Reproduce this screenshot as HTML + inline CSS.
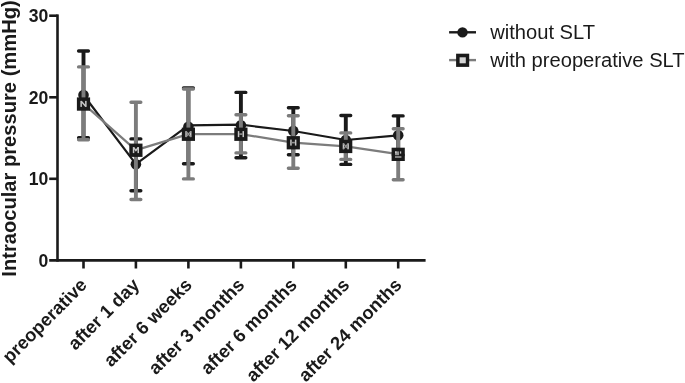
<!DOCTYPE html><html><head><meta charset="utf-8"><title>chart</title><style>html,body{margin:0;padding:0;background:#fff}svg{display:block}text{font-family:"Liberation Sans",Arial,sans-serif;fill:#1a1a1a}</style></head><body>
<svg width="685" height="383" viewBox="0 0 685 383">
<rect width="685" height="383" fill="#fff"/>
<g stroke="#1a1a1a" stroke-width="2.6" fill="none" stroke-linecap="butt">
<path d="M57.5 14.4V261.7"/>
<path d="M49.2 260.4H425.6"/>
<path d="M49.2 178.8H57.5"/>
<path d="M49.2 97.3H57.5"/>
<path d="M49.2 15.7H57.5"/>
<path d="M83.5 260.4V268.5"/>
<path d="M135.9 260.4V268.5"/>
<path d="M188.4 260.4V268.5"/>
<path d="M240.9 260.4V268.5"/>
<path d="M293.3 260.4V268.5"/>
<path d="M345.8 260.4V268.5"/>
<path d="M398.2 260.4V268.5"/>
</g>
<text x="48.3" y="266.7" font-size="17.6" font-weight="bold" text-anchor="end">0</text>
<text x="48.3" y="185.1" font-size="17.6" font-weight="bold" text-anchor="end">10</text>
<text x="48.3" y="103.6" font-size="17.6" font-weight="bold" text-anchor="end">20</text>
<text x="48.3" y="22.0" font-size="17.6" font-weight="bold" text-anchor="end">30</text>
<text transform="translate(16,138.5) rotate(-90)" font-size="20.15" font-weight="bold" text-anchor="middle">Intraocular pressure (mmHg)</text>
<text transform="translate(88.1,286) rotate(-45)" font-size="18.4" font-weight="bold" text-anchor="end">preoperative</text>
<text transform="translate(140.5,286) rotate(-45)" font-size="18.4" font-weight="bold" text-anchor="end">after 1 day</text>
<text transform="translate(193.0,286) rotate(-45)" font-size="18.4" font-weight="bold" text-anchor="end">after 6 weeks</text>
<text transform="translate(245.5,286) rotate(-45)" font-size="18.4" font-weight="bold" text-anchor="end">after 3 months</text>
<text transform="translate(297.9,286) rotate(-45)" font-size="18.4" font-weight="bold" text-anchor="end">after 6 months</text>
<text transform="translate(350.4,286) rotate(-45)" font-size="18.4" font-weight="bold" text-anchor="end">after 12 months</text>
<text transform="translate(402.8,286) rotate(-45)" font-size="18.4" font-weight="bold" text-anchor="end">after 24 months</text>
<g stroke="#1a1a1a" stroke-width="3.4" fill="none" stroke-linecap="round">
<path d="M83.5 51.0V137.7" stroke-linecap="butt" stroke-width="3.9"/>
<path d="M78.6 51.0h9.8M78.6 137.7h9.8"/>
<path d="M135.9 138.9V190.7" stroke-linecap="butt" stroke-width="3.9"/>
<path d="M131.0 138.9h9.8M131.0 190.7h9.8"/>
<path d="M188.4 88.0V163.8" stroke-linecap="butt" stroke-width="3.9"/>
<path d="M183.5 88.0h9.8M183.5 163.8h9.8"/>
<path d="M240.9 92.4V157.8" stroke-linecap="butt" stroke-width="3.9"/>
<path d="M236.0 92.4h9.8M236.0 157.8h9.8"/>
<path d="M293.3 107.8V154.8" stroke-linecap="butt" stroke-width="3.9"/>
<path d="M288.4 107.8h9.8M288.4 154.8h9.8"/>
<path d="M345.8 115.5V164.4" stroke-linecap="butt" stroke-width="3.9"/>
<path d="M340.9 115.5h9.8M340.9 164.4h9.8"/>
<path d="M398.2 115.9V155.0" stroke-linecap="butt" stroke-width="3.9"/>
<path d="M393.3 115.9h9.8M393.3 155.0h9.8"/>
</g>
<polyline points="83.5,95.0 135.9,164.2 188.4,125.4 240.9,124.7 293.3,131.0 345.8,140.0 398.2,135.3" fill="none" stroke="#1a1a1a" stroke-width="2.2" stroke-linejoin="round"/>
<circle cx="83.5" cy="95.0" r="5.3" fill="#1a1a1a"/>
<circle cx="135.9" cy="164.2" r="5.3" fill="#1a1a1a"/>
<circle cx="188.4" cy="126.8" r="5.3" fill="#1a1a1a"/>
<circle cx="240.9" cy="125.3" r="5.3" fill="#1a1a1a"/>
<circle cx="293.3" cy="130.9" r="5.3" fill="#1a1a1a"/>
<circle cx="345.8" cy="140.0" r="5.3" fill="#1a1a1a"/>
<circle cx="398.2" cy="135.3" r="5.3" fill="#1a1a1a"/>
<g stroke="#7c7c7c" stroke-width="3.4" fill="none" stroke-linecap="round">
<path d="M83.5 66.9V139.7" stroke-linecap="butt" stroke-width="3.9"/>
<path d="M78.6 66.9h9.8M78.6 139.7h9.8"/>
<path d="M135.9 102.3V199.5" stroke-linecap="butt" stroke-width="3.9"/>
<path d="M131.0 102.3h9.8M131.0 199.5h9.8"/>
<path d="M188.4 89.0V178.9" stroke-linecap="butt" stroke-width="3.9"/>
<path d="M183.5 89.0h9.8M183.5 178.9h9.8"/>
<path d="M240.9 114.7V152.9" stroke-linecap="butt" stroke-width="3.9"/>
<path d="M236.0 114.7h9.8M236.0 152.9h9.8"/>
<path d="M293.3 115.7V168.3" stroke-linecap="butt" stroke-width="3.9"/>
<path d="M288.4 115.7h9.8M288.4 168.3h9.8"/>
<path d="M345.8 132.9V159.4" stroke-linecap="butt" stroke-width="3.9"/>
<path d="M340.9 132.9h9.8M340.9 159.4h9.8"/>
<path d="M398.2 128.7V179.7" stroke-linecap="butt" stroke-width="3.9"/>
<path d="M393.3 128.7h9.8M393.3 179.7h9.8"/>
</g>
<polyline points="83.5,103.9 135.9,150.1 188.4,134.1 240.9,134.1 293.3,142.6 345.8,146.3 398.2,154.2" fill="none" stroke="#7c7c7c" stroke-width="2.2" stroke-linejoin="round"/>
<rect x="76.9" y="97.4" width="13.2" height="13.3" fill="#1a1a1a"/>
<g transform="translate(83.5,103.9)"><rect x="-3.1" y="-3" width="1.5" height="6" fill="#c8c8c8"/><rect x="1.6" y="-3" width="1.5" height="6" fill="#c8c8c8"/><path d="M-2.3 -2.6L2.3 2.6" stroke="#c8c8c8" stroke-width="1.5" fill="none"/></g>
<rect x="129.3" y="143.6" width="13.2" height="13.3" fill="#1a1a1a"/>
<g transform="translate(135.9,150.1)"><rect x="-3.1" y="-3" width="1.5" height="6" fill="#c8c8c8"/><rect x="1.6" y="-3" width="1.5" height="6" fill="#c8c8c8"/><path d="M-2.3 -2.6L0 0.4L2.3 -2.6" stroke="#c8c8c8" stroke-width="1.4" fill="none"/></g>
<rect x="181.8" y="127.6" width="13.2" height="13.3" fill="#1a1a1a"/>
<g transform="translate(188.4,134.1)"><rect x="-3.1" y="-3" width="1.5" height="6" fill="#c8c8c8"/><rect x="1.6" y="-3" width="1.5" height="6" fill="#c8c8c8"/><path d="M-2.3 -2.6L2.3 2.6M-2.3 2.6L2.3 -2.6" stroke="#949494" stroke-width="1.3" fill="none"/></g>
<rect x="234.3" y="127.6" width="13.2" height="13.3" fill="#1a1a1a"/>
<g transform="translate(240.9,134.1)"><rect x="-3.1" y="-3" width="1.5" height="6" fill="#c8c8c8"/><rect x="1.6" y="-3" width="1.5" height="6" fill="#c8c8c8"/><rect x="-1.6" y="-0.8" width="3.2" height="1.6" fill="#949494"/></g>
<rect x="286.7" y="136.1" width="13.2" height="13.3" fill="#1a1a1a"/>
<g transform="translate(293.3,142.6)"><rect x="-3.1" y="-3" width="1.5" height="6" fill="#c8c8c8"/><rect x="1.6" y="-3" width="1.5" height="6" fill="#c8c8c8"/><rect x="-1.6" y="-0.8" width="3.2" height="1.6" fill="#949494"/></g>
<rect x="339.1" y="139.8" width="13.2" height="13.3" fill="#1a1a1a"/>
<g transform="translate(345.8,146.3)"><rect x="-3.1" y="-3" width="1.5" height="6" fill="#c8c8c8"/><rect x="1.6" y="-3" width="1.5" height="6" fill="#c8c8c8"/><path d="M-2.3 -2.6L2.3 2.6M-2.3 2.6L2.3 -2.6" stroke="#949494" stroke-width="1.3" fill="none"/></g>
<rect x="391.6" y="147.7" width="13.2" height="13.3" fill="#1a1a1a"/>
<g transform="translate(398.2,154.2)"><rect x="-3.2" y="-2.8" width="4" height="3.8" fill="#949494"/><rect x="-3.2" y="-2.8" width="1.6" height="1.8" fill="#c8c8c8"/><rect x="1.7" y="-2.8" width="1.3" height="2.2" fill="#c8c8c8"/><rect x="-3.2" y="2.2" width="6.4" height="1.2" fill="#c8c8c8"/></g>
<path d="M449.1 32.3H476" stroke="#1a1a1a" stroke-width="2.4"/><circle cx="462.5" cy="32.4" r="5.2" fill="#1a1a1a"/>
<path d="M449.1 60.1H476" stroke="#7c7c7c" stroke-width="2.4"/><rect x="456.1" y="53.7" width="13.1" height="13.2" fill="#1a1a1a"/><rect x="459.6" y="57.3" width="6.2" height="6" fill="#d4d4d4"/>
<text x="490.2" y="38.8" font-size="20.15">without SLT</text>
<text x="490.2" y="66.5" font-size="20.15">with preoperative SLT</text>
</svg></body></html>
